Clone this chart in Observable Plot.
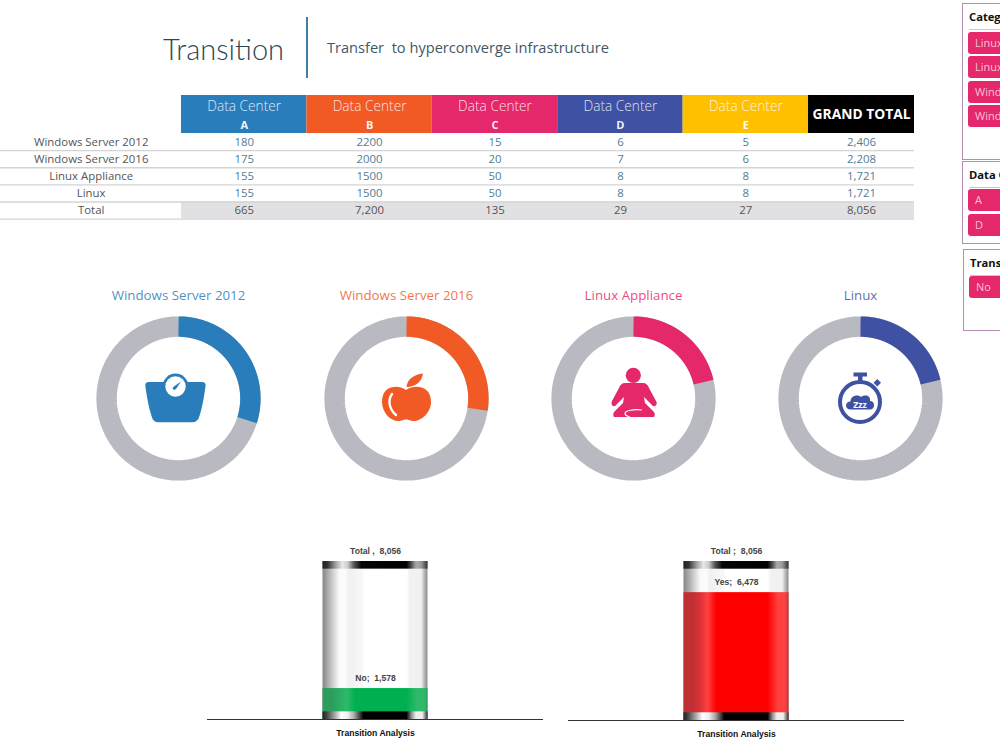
<!DOCTYPE html>
<html>
<head>
<meta charset="utf-8">
<script src="https://cdn.jsdelivr.net/npm/d3@7"></script>
<script src="https://cdn.jsdelivr.net/npm/@observablehq/plot@0.6"></script>
<style>
html,body{margin:0;padding:0;background:#fff;}
#page{position:relative;width:1000px;height:750px;overflow:hidden;font-family:"Open Sans",sans-serif;}
.abs{position:absolute;}
.abs svg{display:block;overflow:visible;}
#title{left:163px;top:29px;font:300 29px/40px Lato,"Open Sans",sans-serif;color:#2b4654;white-space:nowrap;}
#divider{left:305.5px;top:17px;width:2px;height:61px;background:#3f7fa3;}
#subtitle{left:327px;top:37px;font:400 14.6px/20px "Open Sans",sans-serif;color:#3f5866;white-space:pre;}
.slicer{position:absolute;box-sizing:border-box;border:1px solid #b58fb3;background:#fff;width:120px;}
.slicer .head{position:absolute;left:6px;top:4px;right:6px;height:21px;border-bottom:1px solid #c9c9c9;font:700 11.2px/17px "Open Sans",sans-serif;color:#111;white-space:nowrap;}
.slicer .btn{position:absolute;left:5px;width:110px;height:22px;border-radius:3px;background:#e5276b;color:#f8c3d6;font:400 11px/22px "Open Sans",sans-serif;padding-left:7px;box-sizing:border-box;white-space:nowrap;}
</style>
</head>
<body>
<div id="page">
  <div class="abs" id="title">Transition</div>
  <div class="abs" id="divider"></div>
  <div class="abs" id="subtitle">Transfer  to hyperconverge infrastructure</div>
</div>
<script>
// ---- data ----
const categories = ["Windows Server 2012", "Windows Server 2016", "Linux Appliance", "Linux"];
const totalLabel = "Total";
const columns = ["A", "B", "C", "D", "E"];
const valuesA = [180, 175, 155, 155];
const valuesB = [2200, 2000, 1500, 1500];
const valuesC = [15, 20, 50, 50];
const valuesD = [6, 7, 8, 8];
const valuesE = [5, 6, 8, 8];
const grandTotals = [2406, 2208, 1721, 1721];
const columnTotals = [665, 7200, 135, 29, 27];
const grandTotal = 8056;
const noValue = 1578;
const yesValue = 6478;
const noLabel = "No;  1,578";
const yesLabel = "Yes;  6,478";
const totalLabelLeft = "Total ,  8,056";
const totalLabelRight = "Total ;  8,056";
const barCategory = "Transition Analysis";
const slicerCategory = ["Linux", "Linux Appliance", "Windows Server 2012", "Windows Server 2016"];
const slicerCenter = ["A", "D"];
const slicerTransition = ["No"];

// ---- styles ----
const columnColors = ["#2a7dbb", "#f15a24", "#e5276b", "#3f51a3", "#ffc000"];
const ringGrey = "#b8b9c1";
const fontFamily = '"Open Sans", sans-serif';
const page = document.getElementById("page");
function place(node, left, top) {
  const d = document.createElement("div");
  d.className = "abs";
  d.style.left = left + "px";
  d.style.top = top + "px";
  d.appendChild(node);
  page.appendChild(d);
}

// ---- table ----
const matrix = [valuesA, valuesB, valuesC, valuesD, valuesE];
const cells = [];
columns.forEach((c, i) => {
  categories.forEach((_, r) => cells.push({col: i, row: r, text: String(matrix[i][r]), total: false}));
  cells.push({col: i, row: categories.length, text: d3.format(",")(columnTotals[i]), total: true});
});
const gtWidth = 0.845;
categories.forEach((_, r) => cells.push({col: 5, row: r, text: d3.format(",")(grandTotals[r]), total: false, gt: true}));
cells.push({col: 5, row: categories.length, text: d3.format(",")(grandTotal), total: true, gt: true});
const headers = columns.map((c, i) => ({col: i, name: c, color: columnColors[i]}));
const labelCol = -0.72;
const rowLabels = [...categories, totalLabel].map((t, r) => ({t, r}));
const headerTop = -2.22;

const tablePlot = Plot.plot({
  width: 914, height: 125, margin: 0,
  x: {domain: [-1.443, 5 + gtWidth], axis: null},
  y: {domain: [headerTop, 5], range: [0, 123.6], axis: null},
  color: {type: "identity"},
  style: {fontFamily, background: "transparent"},
  marks: [
    Plot.rect(headers, {x1: d => d.col, x2: d => d.col + 1, y1: headerTop, y2: 0, fill: "color"}),
    Plot.rect([0], {x1: 5, x2: 5 + gtWidth, y1: headerTop, y2: 0, fill: "#000"}),
    Plot.rect([0], {x1: 0, x2: 5 + gtWidth, y1: 4, y2: 5, fill: "#e1e1e3"}),
    Plot.ruleY([1, 2, 3, 4, 5], {x1: -1.443, x2: 5 + gtWidth, stroke: "#d4d4d6", strokeWidth: 1.4}),
    Plot.text(headers, {x: d => d.col + .5, y: headerTop, text: () => "Data Center", dy: 11, fill: "rgba(255,255,255,.85)", fontSize: 13.7, fontWeight: 300}),
    Plot.text(headers, {x: d => d.col + .5, y: 0, text: "name", dy: -8.5, fill: "rgba(255,255,255,.95)", fontSize: 11, fontWeight: 700}),
    Plot.text(["GRAND TOTAL"], {x: 5 + gtWidth / 2, y: headerTop / 2, text: d => d, fill: "#fff", fontSize: 13.8, fontWeight: 700}),
    Plot.text(rowLabels, {x: labelCol, y: d => d.r + .5, text: "t", fill: "#555", fontSize: 11.4}),
    Plot.text(cells, {x: d => d.gt ? 5 + gtWidth / 2 : d.col + .5, y: d => d.row + .5, text: "text",
      fill: d => d.total ? "#555" : "#4f7d96", fontSize: 11.4})
  ]
});
place(tablePlot, 0, 95);

// ---- donuts ----
const ringRadius = 71.9, ringWidth = 20.4;
const ringCentres = [178.3, 405.7, 633, 860.3];
const arcPoints = share => d3.range(0, 181).map(i => {
  const a = (i / 180) * share * 2 * Math.PI;
  return {x: ringRadius * Math.sin(a), y: -ringRadius * Math.cos(a)};
});
const iconDrawers = [
  g => {
    g.append("path").attr("fill", columnColors[0]).attr("d", "M-29,-16 H24 Q28.5,-16 27.4,-11 C26,0 24,10 21.5,18 Q19.8,24.3 14,24.3 H-19.5 Q-25,24.3 -26.5,18 C-29,10 -31,0 -32.6,-11 Q-33.5,-16 -29,-16Z");
    g.append("circle").attr("cx", -2.5).attr("cy", -11.5).attr("r", 12.9).attr("fill", columnColors[0]);
    g.append("circle").attr("cx", -2.5).attr("cy", -11.5).attr("r", 10.2).attr("fill", "#fff");
    g.append("path").attr("fill", columnColors[0]).attr("d", "M3,-16.5 L-2,-9 Q-3.5,-7.5 -5,-8.8 Q-6,-10.3 -4.5,-11.3Z");
  },
  g => {
    g.append("path").attr("fill", columnColors[1]).attr("d", "M0,-8 C6,-13 25,-14 25,4 C25,15 15,23 8,23 C4,23 3,21.5 0,21.5 C-3,21.5 -4,23 -8,23 C-15,23 -24,15 -24,4 C-24,-14 -6,-13 0,-8Z");
    g.append("path").attr("fill", columnColors[1]).attr("d", "M0.5,-11 C1,-19 9,-24 17,-24.5 C16,-16 9,-11 0.5,-11Z");
    g.append("path").attr("fill", "none").attr("stroke", "#fff").attr("stroke-width", 2.4).attr("stroke-linecap", "round").attr("d", "M-14,-4 C-19,3 -16,12 -10,17");
  },
  g => {
    g.append("circle").attr("cx", 0.3).attr("cy", -22.7).attr("r", 7.6).attr("fill", columnColors[2]);
    g.append("path").attr("fill", columnColors[2]).attr("d", "M-8,-15 C-11,-15 -13,-13 -14,-10 L-21,3 Q-22.5,6 -20,8 Q-18,9 -16,6 L-9,-1 L-10,5 L-18,13 Q-21,16 -19,19 H21 Q23,16 20,13 L12,5 L11,-1 L18,6 Q20,9 22,8 Q25,6 23,3 L16,-10 C15,-13 13,-15 10,-15Z");
    g.append("path").attr("fill", "none").attr("stroke", "#fff").attr("stroke-width", 1.2).attr("d", "M9,12 C1,11 -8,12.5 -8,15.5 C-8,17.5 -5,18.5 -3,19");
  },
  g => {
    const c = columnColors[3];
    g.append("circle").attr("cx", 0).attr("cy", 4).attr("r", 20).attr("fill", "#fff").attr("stroke", c).attr("stroke-width", 4);
    g.append("path").attr("fill", c).attr("d", "M-6.5,-25.5 H7 V-21.5 H2.5 V-16 H-2 V-21.5 H-6.5Z");
    g.append("path").attr("fill", c).attr("d", "M17.3,-19 L21,-15.2 L17.3,-11.5 L13.6,-15.2Z");
    g.append("path").attr("fill", c).attr("d", "M-9.5,11.5 C-15.5,11.5 -15.5,3.5 -9.5,3.5 C-9.5,-2.5 -2,-4 1,-1 C5.5,-4 11,-2 10,3 C15.5,3 15.5,11.5 10,11.5Z");
    g.append("text").attr("x", 0).attr("y", 10).attr("text-anchor", "middle").attr("fill", "#fff").attr("font-size", 8.8).attr("font-weight", 700).text("Zzz");
  }
];
categories.forEach((name, i) => {
  const share = grandTotals[i] / grandTotal;
  const p = Plot.plot({
    width: 200, height: 205, margin: 0,
    x: {domain: [-100, 100], axis: null},
    y: {domain: [-115, 90], range: [0, 205], axis: null},
    style: {fontFamily, background: "transparent"},
    marks: [
      Plot.line(arcPoints(1), {x: "x", y: "y", stroke: ringGrey, strokeWidth: ringWidth, strokeLinecap: "butt", strokeLinejoin: "round"}),
      Plot.line(arcPoints(share), {x: "x", y: "y", stroke: columnColors[i], strokeWidth: ringWidth, strokeLinecap: "butt", strokeLinejoin: "round"}),
      Plot.text([name], {frameAnchor: "top", dy: 7, text: d => d, fill: columnColors[i], fillOpacity: .85, fontSize: 13.3, fontWeight: 400}),
      (index, {x, y}) => {
        const g = d3.create("svg:g").attr("transform", `translate(${x(0)},${y(0)})`);
        iconDrawers[i](g);
        return g.node();
      }
    ]
  });
  place(p, ringCentres[i] - 100, 283);
});

// ---- cylinders ----
const capHeight = 390;
const stops = list => list.map(([o, c]) => `<stop offset="${o}" stop-color="${c}"/>`).join("");
const topCapStops = [[0,"#222"],[.05,"#333"],[.12,"#999"],[.19,"#e8e8e8"],[.24,"#ccc"],[.3,"#555"],[.37,"#050505"],[.8,"#000"],[.84,"#444"],[.89,"#aaa"],[.94,"#999"],[1,"#333"]];
const bottomCapStops = [[0,"#222"],[.04,"#444"],[.12,"#aaa"],[.18,"#fff"],[.24,"#f0f0f0"],[.3,"#aaa"],[.39,"#000"],[.8,"#000"],[.85,"#999"],[.89,"#eee"],[.95,"#eee"],[1,"#333"]];
const bodyStops = [[0,"#858585"],[.05,"#aaa"],[.1,"#d0d0d0"],[.16,"#fafafa"],[.22,"#fbfbfb"],[.25,"#f0f0f0"],[.38,"#f8f8f8"],[.4,"#fff"],[.8,"#fff"],[.83,"#f2f2f2"],[.94,"#f0f0f0"],[.97,"#b8b8b8"],[1,"#8a8a8a"]];
const fillStops = (edge, soft, bright, mid) => [[0,edge],[.09,edge],[.16,soft],[.23,bright],[.31,mid],[.8,mid],[.9,bright],[.97,bright],[1,edge]];
function cylinder(key, value, label, topLabel, colors, left, marginBottom) {
  const defs = () => {
    const d = document.createElementNS("http://www.w3.org/2000/svg", "defs");
    const lg = (id, s) => `<linearGradient id="${id}">${stops(s)}</linearGradient>`;
    d.innerHTML = lg(key + "top", topCapStops) + lg(key + "bot", bottomCapStops) + lg(key + "body", bodyStops) + lg(key + "fill", fillStops(...colors));
    return d;
  };
  const one = [barCategory];
  const p = Plot.plot({
    width: 336, height: 205, marginTop: 21, marginBottom, marginLeft: 0, marginRight: 0,
    x: {domain: one, padding: 0.5238, round: false, label: null},
    y: {domain: [0, grandTotal], axis: null},
    style: {fontFamily: "Liberation Sans, Arial, sans-serif", background: "transparent"},
    marks: [
      defs,
      Plot.barY(one, {x: d => d, y1: 0, y2: grandTotal, fill: `url(#${key}body)`}),
      Plot.barY(one, {x: d => d, y1: 0, y2: value, fill: `url(#${key}fill)`}),
      Plot.barY(one, {x: d => d, y1: grandTotal - capHeight, y2: grandTotal, fill: `url(#${key}top)`}),
      Plot.barY(one, {x: d => d, y1: 0, y2: capHeight, fill: `url(#${key}bot)`}),
      Plot.ruleY([0], {stroke: "#333", strokeWidth: 1}),
      Plot.text(one, {x: d => d, y: grandTotal, text: () => topLabel, dy: -10, fill: "#444", fontSize: 8.6, fontWeight: 700}),
      Plot.text(one, {x: d => d, y: value, text: () => label, dy: -10, fill: "#444", fontSize: 8.6, fontWeight: 700}),
      Plot.axisX({tickSize: 0, tickPadding: 10, fontWeight: 700, fontSize: 8.6, color: "#111", label: null})
    ]
  });
  place(p, left, 540);
}
cylinder("no", noValue, noLabel, totalLabelLeft, ["#2e9c5c", "#2aad64", "#2fb96a", "#00b050"], 207.3, 26);
cylinder("yes", yesValue, yesLabel, totalLabelRight, ["#bf2f33", "#dc3236", "#ff4040", "#ff0000"], 568.3, 25);

// ---- slicers ----
function slicer(left, top, height, title, items, firstTop, step) {
  const s = document.createElement("div");
  s.className = "slicer";
  s.style.left = left + "px"; s.style.top = top + "px"; s.style.height = height + "px";
  const h = document.createElement("div"); h.className = "head"; h.textContent = title; s.appendChild(h);
  items.forEach((t, i) => {
    const b = document.createElement("div"); b.className = "btn"; b.textContent = t;
    b.style.top = (firstTop + i * step) + "px"; s.appendChild(b);
  });
  page.appendChild(s);
}
slicer(962, 3, 157, "Category", slicerCategory, 27.5, 24.5);
slicer(962, 161, 83, "Data Center", slicerCenter, 27, 24.5);
slicer(963, 249, 82, "Transition", slicerTransition, 26, 24.5);
</script>
</body>
</html>
